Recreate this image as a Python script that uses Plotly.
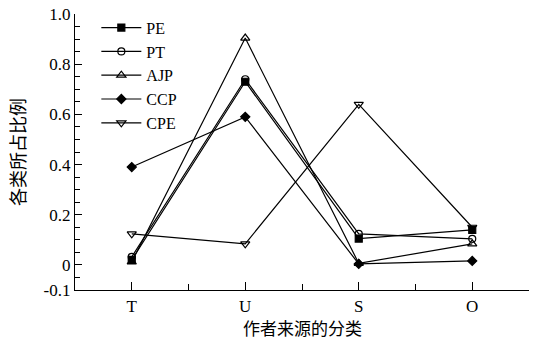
import plotly.graph_objects as go

categories = ["T", "U", "S", "O"]
pe = [0.02, 0.73, 0.105, 0.14]
pt = [0.032, 0.74, 0.124, 0.104]
ajp = [0.012, 0.904, 0.006, 0.084]
ccp = [0.39, 0.59, 0.004, 0.016]
cpe = [0.124, 0.084, 0.64, 0.15]

ytick_vals = [-0.1, 0, 0.2, 0.4, 0.6, 0.8, 1.0]
ytick_text = ["-0.1", "0", "0.2", "0.4", "0.6", "0.8", "1.0"]

series = [
    ("PE", pe, "square"),
    ("PT", pt, "circle-open"),
    ("AJP", ajp, "triangle-up-open"),
    ("CCP", ccp, "diamond"),
    ("CPE", cpe, "triangle-down-open"),
]

xpos = list(range(len(categories)))
fig = go.Figure()
for name, vals, sym in series:
    fig.add_trace(go.Scatter(
        x=xpos, y=vals, name=name, mode="lines+markers",
        line=dict(color="black", width=1.2),
        marker=dict(symbol=sym, size=8 if "triangle" in sym else 7, color="black",
                    line=dict(color="black", width=1.2)),
    ))

serif = "Liberation Serif"
cjk = "Noto Sans CJK SC"
fig.update_layout(
    width=538, height=339,
    margin=dict(l=75, r=9, t=14, b=49),
    plot_bgcolor="white", paper_bgcolor="white",
    showlegend=True,
    legend=dict(x=0.047, y=1.012, xanchor="left", yanchor="top",
                font=dict(family=serif, size=16, color="black"),
                bgcolor="rgba(0,0,0,0)", itemwidth=40),
    xaxis=dict(range=[-0.5, 3.5], tickvals=xpos, ticktext=categories, automargin=False,
               showgrid=False, zeroline=False, showline=True, linecolor="black", linewidth=1.2,
               ticks="inside", ticklen=8, tickcolor="black", tickwidth=1,
               tickfont=dict(family=serif, size=17, color="black"),
               minor=dict(tick0=0.5, dtick=1, ticks="inside", ticklen=6, tickcolor="black")),
    yaxis=dict(range=[-0.1, 1.0], tickvals=ytick_vals, ticktext=ytick_text, automargin=False,
               showgrid=False, zeroline=False, showline=True, linecolor="black", linewidth=1.2,
               ticks="inside", ticklen=7, tickcolor="black", tickwidth=1,
               tickfont=dict(family=serif, size=17, color="black"),
               minor=dict(tick0=0, dtick=0.05, ticks="inside", ticklen=5, tickcolor="black")),
    annotations=[
        dict(text="作者来源的分类", xref="paper", yref="paper", x=0.5, y=0,
             xanchor="center", yanchor="middle", yshift=-37, showarrow=False,
             font=dict(family=cjk, size=17, color="black")),
        dict(text="各类所占比例", xref="paper", yref="paper", x=0, y=0.5,
             xanchor="center", yanchor="middle", xshift=-58, textangle=-90, showarrow=False,
             font=dict(family=cjk, size=18, color="black")),
    ],
)

fig.write_html("out.html", config={"displayModeBar": False},
               post_script="document.body.style.margin='0';document.body.style.padding='0';document.body.style.overflow='hidden';")
